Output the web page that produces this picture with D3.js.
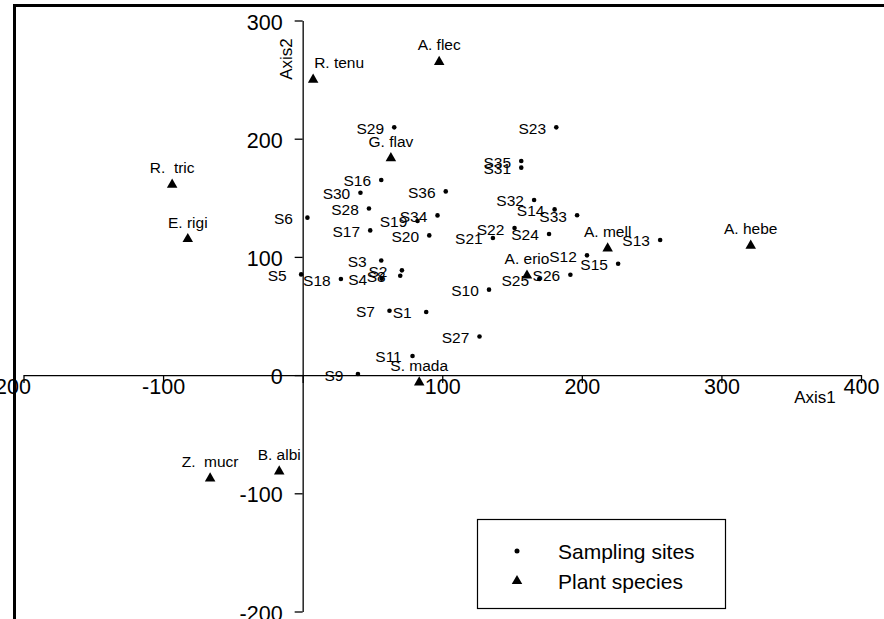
<!DOCTYPE html>
<html>
<head>
<meta charset="utf-8">
<script src="https://cdn.jsdelivr.net/npm/d3@7"></script>
<style>
  body { margin: 0; background: #fff; }
  text { font-family: "Liberation Sans", Arial, sans-serif; fill: #000; }
</style>
</head>
<body>
<svg width="884" height="619"></svg>
<script>
// sampling sites (Axis1, Axis2 scores)
const siteNames = ["S1","S2","S3","S4","S5","S6","S7","S8","S9","S10","S11","S12",
  "S13","S14","S15","S16","S17","S18","S19","S20","S21","S22","S23","S24",
  "S25","S26","S27","S28","S29","S30","S31","S32","S33","S34","S35","S36"]
const siteAxis1 = [88.5, 71.1, 56.3, 56.6, -1.1, 3.4, 62.2, 69.9, 39.6, 133.5, 78.7, 203.7,
  256.1, 180.5, 226.0, 56.3, 48.4, 27.4, 82.3, 90.7, 136.3, 151.8, 181.7, 176.5,
  169.5, 191.8, 126.7, 47.5, 65.6, 41.4, 156.6, 165.8, 196.6, 96.6, 156.6, 102.5]
const siteAxis2 = [53.4, 88.6, 97.0, 81.6, 85.2, 133.2, 54.5, 84.1, 0.9, 72.3, 16.2, 101.3,
  114.3, 140.2, 94.2, 165.1, 122.4, 81.3, 130.4, 118.2, 116.0, 124.4, 209.6, 119.4,
  81.3, 84.9, 32.7, 141.0, 209.6, 154.3, 175.5, 148.2, 135.3, 135.1, 181.1, 155.4]

// plant species
const speciesNames = ["A. flec","R. tenu","G. flav","R.  tric","E. rigi","A. mell",
  "A. hebe","A. erio","S. mada","Z.  mucr","B. albi"]
const speciesAxis1 = [97.8, 7.5, 63.2, -93.5, -82.3, 218.5, 321.0, 160.7, 83.5, -66.3, -16.8]
const speciesAxis2 = [265.0, 250.0, 183.5, 161.1, 115.1, 107.2, 109.5, 84.3, -6.2, -87.4, -81.5]

const xTicks = [-200, -100, 0, 100, 200, 300, 400]
const yTicks = [-200, -100, 0, 100, 200, 300]
const legendLabels = ["Sampling sites", "Plant species"]

const svg = d3.select("svg")

svg.append("rect")
    .attr("width", 884).attr("height", 619)
    .attr("fill", "#fff")

// thick frame, runs off the right and bottom of the picture
svg.append("rect")
    .attr("x", 14.5).attr("y", 5.5)
    .attr("width", 1000).attr("height", 1000)
    .attr("fill", "none")
    .attr("stroke", "#000")
    .attr("stroke-width", 3)

const x = d3.scaleLinear()
    .domain([-200, 400])
    .range([23.5, 861])

const y = d3.scaleLinear()
    .domain([-200, 300])
    .range([611.5, 20.5])

// axes cross at the origin
const xAxis = svg.append("g")
    .attr("transform", "translate(0," + y(0) + ")")
    .call(d3.axisBottom(x)
        .tickValues(xTicks)
        .tickSize(8)
        .tickSizeOuter(0)
        .tickPadding(-4)
        .tickFormat(d => d === 0 ? "" : d))

const yAxis = svg.append("g")
    .attr("transform", "translate(" + x(0) + ",0)")
    .call(d3.axisLeft(y)
        .tickValues(yTicks)
        .tickSize(8)
        .tickSizeOuter(0)
        .tickPadding(12)
        .tickFormat(d => d))

svg.selectAll(".domain, .tick line")
    .attr("stroke", "#000")
    .attr("stroke-width", 1.3)

svg.selectAll(".tick text")
    .style("font-size", "21.5px")
    .attr("fill", "#000")

yAxis.selectAll(".tick text").attr("dy", "0.4em")

// the leftmost label is pushed against the frame and partly hidden
xAxis.selectAll(".tick text")
    .filter(d => d === -200)
    .attr("text-anchor", "end")
    .attr("x", 7)

svg.append("text")
    .attr("x", 815).attr("y", 403)
    .attr("text-anchor", "middle")
    .style("font-size", "17px")
    .text("Axis1")

svg.append("text")
    .attr("transform", "translate(292,59) rotate(-90)")
    .attr("text-anchor", "middle")
    .style("font-size", "17px")
    .text("Axis2")

// sites
const sites = svg.append("g")
    .selectAll("g")
    .data(siteNames)
    .enter()
    .append("g")
    .attr("transform", (d, i) => "translate(" + x(siteAxis1[i]) + "," + y(siteAxis2[i]) + ")")

sites.append("circle")
    .attr("r", 2.3)
    .attr("fill", "#000")

sites.append("text")
    .attr("x", -24)
    .attr("y", 6.5)
    .attr("text-anchor", "middle")
    .style("font-size", "15.5px")
    .text(d => d)

// species
const triangle = d3.symbol(d3.symbolTriangle, 48)

const species = svg.append("g")
    .selectAll("g")
    .data(speciesNames)
    .enter()
    .append("g")
    .attr("transform", (d, i) => "translate(" + x(speciesAxis1[i]) + "," + y(speciesAxis2[i]) + ")")

species.append("path")
    .attr("d", triangle)
    .attr("fill", "#000")

species.append("text")
    .attr("x", d => d === "R. tenu" ? 26 : 0)
    .attr("y", -11.5)
    .attr("text-anchor", "middle")
    .style("font-size", "15.5px")
    .style("white-space", "pre")
    .text(d => d)

// legend
const legend = svg.append("g")

legend.append("rect")
    .attr("x", 477.5).attr("y", 519.5)
    .attr("width", 248).attr("height", 89)
    .attr("fill", "#fff")
    .attr("stroke", "#000")
    .attr("stroke-width", 1.2)

const legendItems = legend.selectAll("g")
    .data(legendLabels)
    .enter()
    .append("g")
    .attr("transform", (d, i) => "translate(517," + (551 + i * 30) + ")")

legendItems.filter((d, i) => i === 0)
    .append("circle")
    .attr("r", 2.5)
    .attr("fill", "#000")

legendItems.filter((d, i) => i === 1)
    .append("path")
    .attr("d", triangle)
    .attr("fill", "#000")

legendItems.append("text")
    .attr("x", 41)
    .attr("y", 7.5)
    .style("font-size", "21px")
    .text(d => d)
</script>
</body>
</html>
